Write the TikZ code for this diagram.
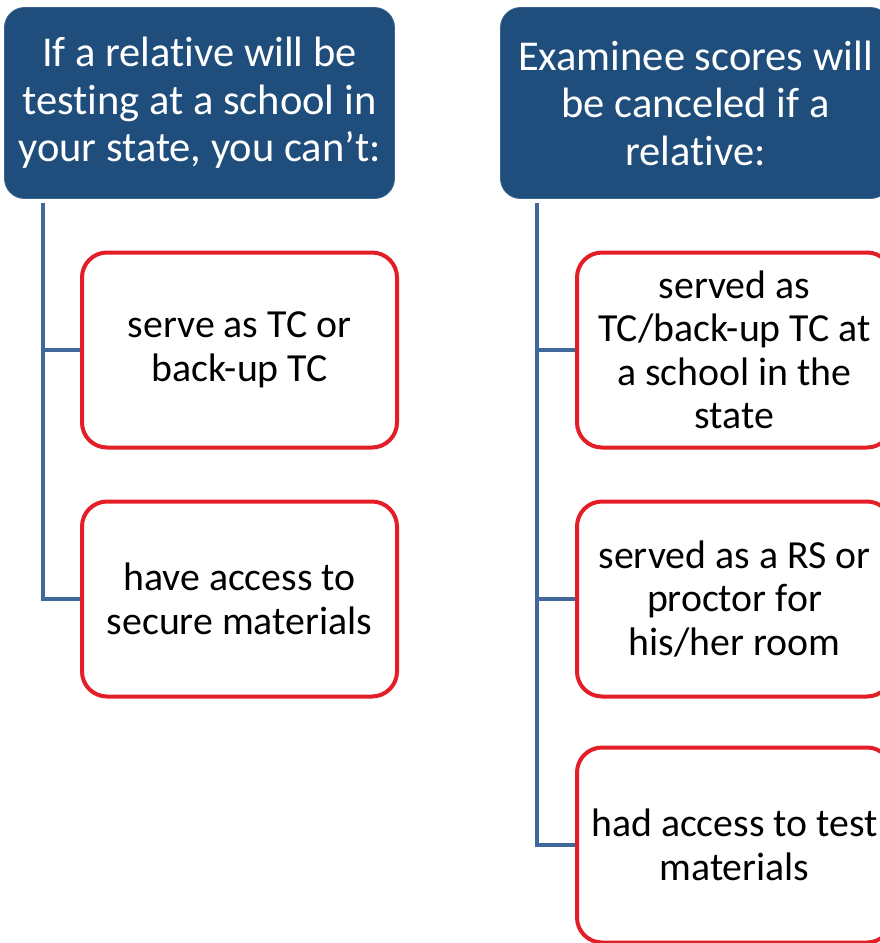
\documentclass[tikz,border=0pt]{standalone}
\usepackage{fontspec}
\setmainfont[Ligatures=NoCommon]{Carlito}
\definecolor{hdrblue}{RGB}{31,78,124}
\definecolor{hdredge}{RGB}{60,100,145}
\definecolor{connblue}{RGB}{65,104,155}
\definecolor{boxred}{RGB}{228,30,38}
\tikzset{
  hdrbox/.style={rectangle, rounded corners=20pt, fill=hdrblue, draw=hdredge, line width=0.8pt,
    minimum width=390pt, minimum height=191pt, text=white, align=center, inner sep=0pt,
    font=\fontsize{42.5}{47.5}\selectfont},
  itembox/.style={rectangle, rounded corners=25pt, draw=boxred, line width=4pt, fill=white,
    minimum width=315pt, minimum height=195pt, text=black, align=center, inner sep=0pt,
    font=\fontsize{39.8}{43.5}\selectfont},
  conn/.style={draw=connblue, line width=4pt}
}
\begin{document}
\begin{tikzpicture}[x=1pt,y=1pt]
\useasboundingbox (0,0) rectangle (880,-943);
\clip (0,0) rectangle (880,-943);
\fill[white] (0,0) rectangle (880,-943);
% headers
\node[hdrbox] (hL) at (199.5,-103) {If a relative will be\\testing at a school in\\your state, you can’t:};
\node[hdrbox] (hR) at (695.5,-103) {Examinee scores will\\be canceled if a\\relative:};
% left items
\node[itembox] (l1) at (239.5,-350) {serve as TC or\\back-up TC};
\node[itembox] (l2) at (239.5,-599) {have access to\\secure materials};
% right items
\node[itembox] (r1) at (734.5,-350) {served as\\TC/back-up TC at\\a school in the\\state};
\node[itembox] (r2) at (734.5,-599) {served as a RS or\\proctor for\\his/her room};
\node[itembox] (r3) at (734.5,-845) {had access to test\\materials};
% connectors
\coordinate (tL) at ([xshift=39pt,yshift=-4pt]hL.south west);
\coordinate (tR) at ([xshift=37pt,yshift=-4pt]hR.south west);
\draw[conn] (tL) |- (l1.west);
\draw[conn] (tL) |- (l2.west);
\draw[conn] (tR) |- (r1.west);
\draw[conn] (tR) |- (r2.west);
\draw[conn] (tR) |- (r3.west);
\end{tikzpicture}
\end{document}
